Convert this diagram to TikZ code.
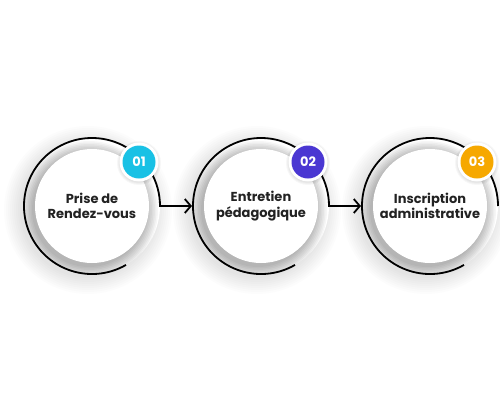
\documentclass[tikz,border=0pt]{standalone}
\usepackage{fontspec}
\setmainfont{Poppins}
\usetikzlibrary{arrows.meta}
\definecolor{cyanb}{HTML}{19C1E5}
\definecolor{purpb}{HTML}{4A37D2}
\definecolor{orangeb}{HTML}{F6A800}
\definecolor{txt}{HTML}{222222}
\tikzset{
  ring/.style={line width=1.8pt, black, line join=miter},
  flow/.style={line width=1.8pt, black, line join=miter, -{Straight Barb[length=6pt,width=14pt,line width=1.8pt]}},
  steptext/.style={font=\fontsize{13}{15.5}\selectfont\bfseries, text=txt, align=center},
  badgetext/.style={font=\fontsize{13}{14}\selectfont\bfseries, text=white},
}
\newcommand{\stepcircle}[5]{% name, x, y, colour, number
  \begin{scope}
    % outer halo
    \foreach \r in {68,70,...,84} {\fill[black,opacity=0.012] (#2-4,#3+4) circle (\r pt);}
    \fill[white] (#2,#3) circle (68pt);
    \begin{scope}
      \clip (#2,#3) circle (68pt);
      \foreach \r in {57,58.5,...,70} {\fill[black,opacity=0.035] (#2-3,#3+4) circle (\r pt);}
    \end{scope}
    \fill[white] (#2,#3) circle (57pt);
    \coordinate (#1c) at (#2,#3);
    \coordinate (#1s) at ([shift={(300:68pt)}]#2,#3);
  \end{scope}
}
\newcommand{\stepbadge}[5]{% name, x, y, colour, number
    \foreach \r in {19,20,21,22} {\fill[black,opacity=0.03] (#2+47,#3-44+1) circle (\r pt);}
    \fill[white] (#2+47,#3-44) circle (19.5pt);
    \node[circle, fill=#4, minimum size=33pt, inner sep=0pt, badgetext] (#1b) at (#2+47,#3-44) {#5};
}
\begin{document}
\begin{tikzpicture}[x=1pt,y=-1pt]
\useasboundingbox (0,0) rectangle (500,400);
\stepcircle{a}{92}{206}{cyanb}{01}
\stepcircle{b}{261}{206}{purpb}{02}
\stepcircle{c}{430}{206}{orangeb}{03}
\node[steptext] (ta) at (92,206) {Prise de\\Rendez-vous};
\node[steptext] (tb) at (261,206) {Entretien\\pédagogique};
\node[steptext] (tc) at (430,206) {Inscription\\administrative};
\coordinate (bl) at (192,206);
\coordinate (cl) at (361,206);
\draw[flow] (as) arc[start angle=300, end angle=0, radius=68pt] -- (bl);
\draw[flow] (bs) arc[start angle=300, end angle=0, radius=68pt] -- (cl);
\draw[ring] (cs) arc[start angle=300, end angle=0, radius=68pt];
\stepbadge{a}{92}{206}{cyanb}{01}
\stepbadge{b}{261}{206}{purpb}{02}
\stepbadge{c}{430}{206}{orangeb}{03}
\end{tikzpicture}
\end{document}
